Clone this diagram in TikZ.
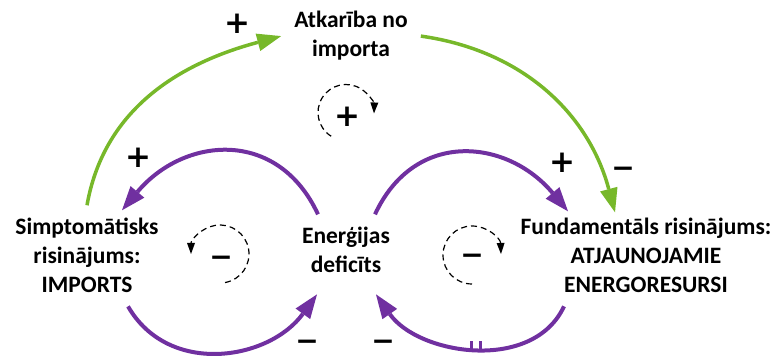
\documentclass[tikz,border=0pt]{standalone}
\usepackage{fontspec}
\setmainfont{Carlito}
\newfontfamily\signfont{DejaVu Sans}
\usetikzlibrary{arrows.meta,calc,decorations.markings}

\definecolor{loopgreen}{RGB}{119,184,42}
\definecolor{looppurple}{RGB}{112,48,160}

\tikzset{
  var/.style={align=center, inner sep=13pt, anchor=base, font=\bfseries\fontsize{23.5}{29}\selectfont},
  sign/.style={inner sep=0pt, font=\signfont\bfseries\fontsize{31}{31}\selectfont},
  minus/.style={inner sep=0pt, font=\signfont\bfseries\fontsize{28}{28}\selectfont},
  greenlink/.style={-{Triangle[length=24pt,width=18pt,line width=0pt]}, loopgreen, line width=3.5pt},
  purplelink/.style={-{Triangle[length=24pt,width=18pt,line width=0pt]}, looppurple, line width=4pt},
  loopline/.style={-{Triangle[length=11pt,width=8pt,line width=0pt]}, dash pattern=on 6pt off 4pt, line width=1.2pt},
  delay/.style={postaction={decorate}, decoration={markings, mark=at position 0.47 with {\pgftransformresetnontranslations
    \draw[-, solid, looppurple, line width=2.5pt] (-4.5pt,-1.5pt) -- (-4.5pt,7.5pt) (4.5pt,-1.5pt) -- (4.5pt,7.5pt);}}}
}

\begin{document}
\begin{tikzpicture}[x=1pt, y=1pt]
    \useasboundingbox (0,0) rectangle (779,356);

    \node[var] (atk) at (351,299) {Atkarība no\\importa};
    \node[var] (imp) at (87,63) {Simptomātisks\\risinājums:\\IMPORTS};
    \node[var] (ene) at (346,83) {Enerģijas\\deficīts};
    \node[var] (fun) at (646,63) {Fundamentāls risinājums:\\ATJAUNOJAMIE\\ENERGORESURSI};

    \draw[greenlink] (imp.north) to[out=80, in=195] (atk.west);
    \draw[greenlink] (atk.east) to[out=-8, in=105] ([shift={(-31pt,-7pt)}]fun.north);

    \draw[purplelink] ([xshift=-28pt]ene.north) to[out=115, in=50, looseness=1.25] ([shift={(35pt,-5pt)}]imp.north);
    \draw[purplelink] ([xshift=29pt]ene.north) to[out=65, in=130, looseness=1.25] ([shift={(-78pt,-6pt)}]fun.north);
    \draw[purplelink] ([xshift=41pt]imp.south) to[out=-60, in=234, looseness=1.1] ([shift={(-29pt,-8pt)}]ene.south);
    \draw[purplelink, delay] ([xshift=-82pt]fun.south) to[out=245, in=-55, looseness=1.0] ([shift={(30pt,-8pt)}]ene.south);

    \node[sign] (p1) at (237,332) {+};
    \node[sign] (p2) at (138,198) {+};
    \node[sign] (p3) at (562,193) {+};
    \node[minus] (m1) at (623,184) {−};
    \node[minus] (m2) at (307,11) {−};
    \node[minus] (m3) at (383,11) {−};

    \node[sign] (loopT) at (347,239) {+};
    \node[minus] (loopL) at (221,95) {−};
    \node[minus] (loopR) at (472,97) {−};
    \draw[loopline] ($(loopT.center)+(-1,4.5)+(238:28)$) arc[start angle=238, end angle=-2, radius=28];
    \draw[loopline] ($(loopL.center)+(-1,7)+(-80:29)$) arc[start angle=-80, end angle=180, radius=29];
    \draw[loopline] ($(loopR.center)+(0,4)+(-90:29)$) arc[start angle=270, end angle=2, radius=29];
\end{tikzpicture}
\end{document}
